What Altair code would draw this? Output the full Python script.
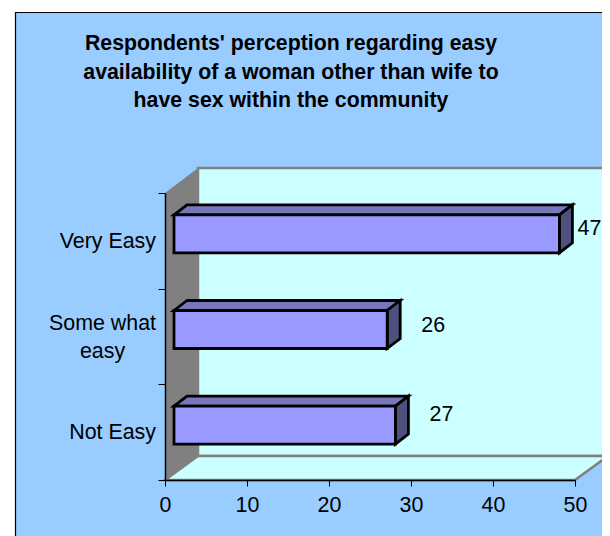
import altair as alt
import pandas as pd

categories = ["Very Easy", "Some what\neasy", "Not Easy"]
values = [47, 26, 27]
x_ticks = [0, 10, 20, 30, 40, 50]
title_lines = ["Respondents' perception regarding easy",
               "availability of a woman other than wife to",
               "have sex within the community"]

# plot frame on the page
PX0, PX_PER = 165, 8.2
PY0, PY_PER = 480, 287 / 3
def xd(p): return (p - PX0) / PX_PER
def yd(p): return (PY0 - p) / PY_PER

FONT = "Liberation Sans"
LABEL_SIZE = 21.4
xs = alt.Scale(domain=[0, 50], nice=False, zero=False)
ys = alt.Scale(domain=[0, 3], nice=False, zero=False)
X = alt.X("x:Q", scale=xs, stack=None, title=None,
          axis=alt.Axis(values=x_ticks, grid=False, domainColor="black", tickColor="black", domainWidth=1.5,
                        tickSize=6, labelFont=FONT, labelFontSize=LABEL_SIZE, labelColor="black", labelPadding=8,
                        labelFlush=False, labelOverlap=False, zindex=1))
Y = alt.Y("y:Q", scale=ys, stack=None, title=None,
          axis=alt.Axis(values=[0, 1, 2, 3], grid=False, labels=False, domainColor="black", tickColor="black", domainWidth=1.5,
                        tickSize=7, zindex=1))

def rect(x0, x1, y0, y1, **kw):
    d = pd.DataFrame({"x": [x0], "x1": [x1], "y": [y0], "y1": [y1]})
    return alt.Chart(d).mark_rect(**kw).encode(x=X, x2="x1:Q", y=Y, y2="y1:Q")

def vert(rows, **kw):  # vertical edges at each x
    return alt.Chart(pd.DataFrame(rows)).mark_area(orient="vertical", **kw).encode(
        x=X, y=Y, y2="y1:Q", detail="k:N")

def horiz(rows, **kw):  # horizontal edges at each y
    return alt.Chart(pd.DataFrame(rows)).mark_area(orient="horizontal", **kw).encode(
        x=X, x2="x1:Q", y=Y, detail="k:N")

# chart area
bg = rect(xd(15.5), xd(640), yd(12.5), yd(580), fill="#99CCFF", stroke="black", strokeWidth=1.2)

# walls
WDX, WDY = 33, 24
wall = rect(xd(PX0 + WDX), xd(608), yd(168), yd(PY0 - WDY), fill="#CCFFFF", stroke="#808080", strokeWidth=2.5)
side = vert([{"k": 0, "x": xd(PX0), "y": yd(193), "y1": yd(PY0)},
             {"k": 0, "x": xd(PX0 + WDX), "y": yd(168), "y1": yd(PY0 - WDY)}], fill="#808080")
floor = horiz([{"k": 0, "y": yd(PY0), "x": xd(PX0), "x1": xd(575)},
               {"k": 0, "y": yd(PY0 - WDY), "x": xd(PX0 + WDX), "x1": xd(608)}],
              fill="#CCFFFF", stroke="#808080", strokeWidth=2.5)

# bars
BAR_X0 = xd(174)
DX, DY = 13 / PX_PER, 10 / PY_PER
HALF, LIFT = 19 / PY_PER, 7 / PY_PER
n = len(categories)
front, top, right = [], [], []
for i, v in enumerate(values):
    c = n - i - 0.5 + LIFT
    yb, yt = c - HALF, c + HALF
    x1 = BAR_X0 + v
    front.append({"x": BAR_X0, "x1": x1, "y": yb, "y1": yt})
    top += [{"k": i, "y": yt, "x": BAR_X0, "x1": x1}, {"k": i, "y": yt + DY, "x": BAR_X0 + DX, "x1": x1 + DX}]
    right += [{"k": i, "x": x1, "y": yb, "y1": yt}, {"k": i, "x": x1 + DX, "y": yb + DY, "y1": yt + DY}]

edge = dict(stroke="black", strokeWidth=2.8, strokeJoin="miter")
bars_front = alt.Chart(pd.DataFrame(front)).mark_bar(fill="#9999FF", **edge).encode(x=X, x2="x1:Q", y=Y, y2="y1:Q")
bars_top = horiz(top, fill="#7777BB", **edge)
bars_right = vert(right, fill="#50507F", **edge)

# category labels: one-line labels end at the axis, a two-line label is centred on its own widest line
LINE = 28
cat_df = pd.DataFrame({"x": [0] * n,
                       "y": [n - i - 0.5 + (c.count("\n") * LINE / 2 - 1) / PY_PER for i, c in enumerate(categories)],
                       "t": categories})
cat_one = cat_df[~cat_df.t.str.contains("\n")]
cat_two = cat_df[cat_df.t.str.contains("\n")]
text_style = dict(font=FONT, fontSize=LABEL_SIZE, color="black", lineBreak="\n", lineHeight=LINE)
cat_text_one = alt.Chart(cat_one).mark_text(align="right", dx=-9, **text_style).encode(x=X, y=Y, text="t:N")
cat_text_two = alt.Chart(cat_two).mark_text(align="center", dx=-62.5, **text_style).encode(x=X, y=Y, text="t:N")

# value labels
label_dx = [30, 46, 46]
label_dy = [229, 326, 415]
val_df = pd.DataFrame({"x": [BAR_X0 + v + d / PX_PER for v, d in zip(values, label_dx)],
                       "y": [yd(p) for p in label_dy], "t": values})
val_text = alt.Chart(val_df).mark_text(font=FONT, fontSize=LABEL_SIZE, color="black", align="center").encode(
    x=X, y=Y, text="t:Q")

# chart title (drawn as text so that it stays inside the chart area)
title_y = [44, 73, 101]
title_df = pd.DataFrame({"x": [xd(291)] * 3, "y": [yd(p) for p in title_y], "t": title_lines})
title_text = alt.Chart(title_df).mark_text(font=FONT, fontSize=21.3, fontWeight="bold", color="black",
                                           align="center").encode(x=X, y=Y, text="t:N")

chart = alt.layer(bg, wall, side, floor, bars_top, bars_right, bars_front,
                  cat_text_one, cat_text_two, val_text, title_text).properties(
    width=410, height=287,
    background="white",
    autosize=alt.AutoSizeParams(type="none"),
    padding={"left": 157, "top": 185, "right": 27, "bottom": 56},
).configure_view(stroke=None)

chart.save("out.html", embed_options={"renderer": "svg", "actions": False})
